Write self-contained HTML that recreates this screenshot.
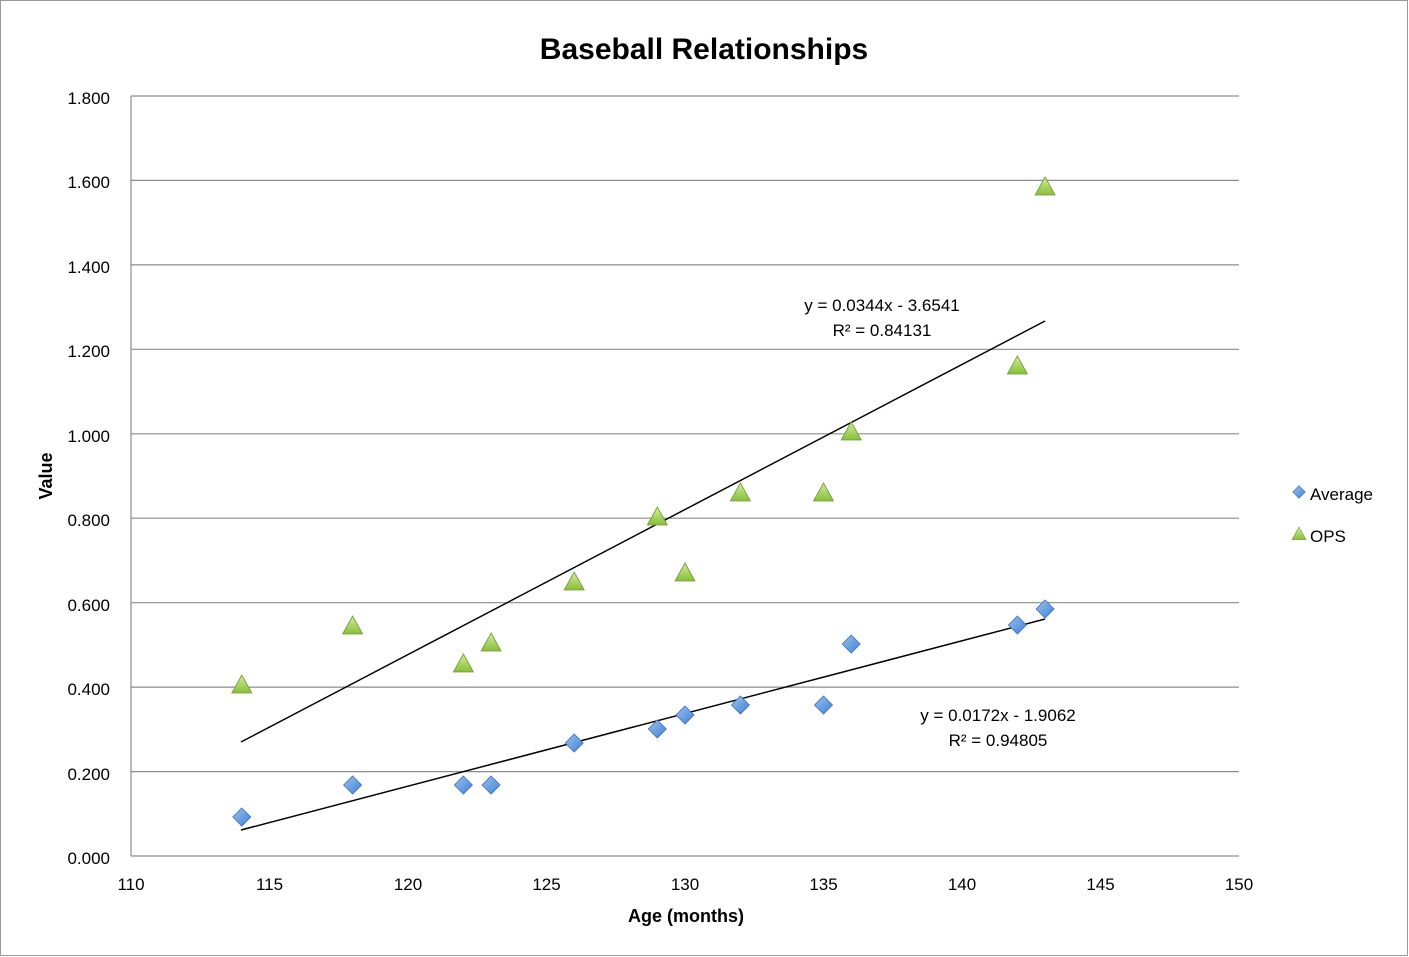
<!DOCTYPE html>
<html><head><meta charset="utf-8"><style>
html,body{margin:0;padding:0;background:#fff;}
svg{display:block;font-family:"Liberation Sans",sans-serif;}
</style></head><body>
<svg width="1409" height="957" viewBox="0 0 1409 957" xmlns="http://www.w3.org/2000/svg">
<defs>
<linearGradient id="gd" x1="0" y1="0" x2="1" y2="1"><stop offset="0" stop-color="#9cc3f0"/><stop offset="1" stop-color="#3f7fd6"/></linearGradient>
<linearGradient id="gt" x1="0" y1="0" x2="0" y2="1"><stop offset="0" stop-color="#d4ec9a"/><stop offset="1" stop-color="#86bf3a"/></linearGradient>
<g id="d"><polygon points="0,-9 9,0 0,9 -9,0" fill="url(#gd)" stroke="#3b6fb8" stroke-width="0.8"/></g>
<g id="t"><polygon points="0,-10 10,8 -10,8" fill="url(#gt)" stroke="#6f9a2e" stroke-width="0.8"/></g>
</defs>
<rect x="0.5" y="0.5" width="1407" height="955" fill="#fff" stroke="#9a9a9a"/>
<text x="704" y="59" text-anchor="middle" font-size="30" font-weight="bold">Baseball Relationships</text>
<g stroke="#8c8c8c" stroke-width="1.2">
<line x1="131" y1="96" x2="1239" y2="96"/>
<line x1="131" y1="180.4" x2="1239" y2="180.4"/>
<line x1="131" y1="264.9" x2="1239" y2="264.9"/>
<line x1="131" y1="349.3" x2="1239" y2="349.3"/>
<line x1="131" y1="433.8" x2="1239" y2="433.8"/>
<line x1="131" y1="518.2" x2="1239" y2="518.2"/>
<line x1="131" y1="602.7" x2="1239" y2="602.7"/>
<line x1="131" y1="687.1" x2="1239" y2="687.1"/>
<line x1="131" y1="771.6" x2="1239" y2="771.6"/>
<line x1="131" y1="856" x2="1239" y2="856"/>
<line x1="131" y1="96" x2="131" y2="856"/>
</g>
<g font-size="17" text-anchor="end">
<text x="110" y="104">1.800</text><text x="110" y="188">1.600</text><text x="110" y="273">1.400</text>
<text x="110" y="357">1.200</text><text x="110" y="442">1.000</text><text x="110" y="526">0.800</text>
<text x="110" y="611">0.600</text><text x="110" y="695">0.400</text><text x="110" y="780">0.200</text>
<text x="110" y="864">0.000</text>
</g>
<g font-size="17" text-anchor="middle">
<text x="131" y="890">110</text><text x="269.5" y="890">115</text><text x="408" y="890">120</text>
<text x="546.5" y="890">125</text><text x="685" y="890">130</text><text x="823.5" y="890">135</text>
<text x="962" y="890">140</text><text x="1100.5" y="890">145</text><text x="1239" y="890">150</text>
</g>
<text x="686" y="922" text-anchor="middle" font-size="18" font-weight="bold">Age (months)</text>
<text transform="translate(52,476) rotate(-90)" text-anchor="middle" font-size="18" font-weight="bold">Value</text>
<line x1="241" y1="742" x2="1045" y2="321" stroke="#000" stroke-width="1.5"/>
<line x1="241" y1="830" x2="1045" y2="619" stroke="#000" stroke-width="1.5"/>
<use href="#t" x="241.8" y="685"/><use href="#t" x="352.6" y="626"/><use href="#t" x="463.4" y="664"/>
<use href="#t" x="491.1" y="643"/><use href="#t" x="574.2" y="582"/><use href="#t" x="657.3" y="517"/>
<use href="#t" x="685" y="573"/><use href="#t" x="740.4" y="493"/><use href="#t" x="823.5" y="493"/>
<use href="#t" x="851.2" y="432"/><use href="#t" x="1017.4" y="366"/><use href="#t" x="1045.1" y="187"/>
<use href="#d" x="241.8" y="817"/><use href="#d" x="352.6" y="785"/><use href="#d" x="463.4" y="785"/>
<use href="#d" x="491.1" y="785"/><use href="#d" x="574.2" y="743"/><use href="#d" x="657.3" y="729"/>
<use href="#d" x="685" y="715"/><use href="#d" x="740.4" y="705"/><use href="#d" x="823.5" y="705"/>
<use href="#d" x="851.2" y="644"/><use href="#d" x="1017.4" y="625"/><use href="#d" x="1045.1" y="609"/>
<g font-size="17" text-anchor="middle">
<text x="882" y="311">y = 0.0344x - 3.6541</text><text x="882" y="336">R² = 0.84131</text>
<text x="998" y="721">y = 0.0172x - 1.9062</text><text x="998" y="746">R² = 0.94805</text>
</g>
<g transform="translate(1299,492) scale(0.7)"><use href="#d"/></g>
<text x="1310" y="500" font-size="17">Average</text>
<g transform="translate(1299,534) scale(0.7)"><use href="#t"/></g>
<text x="1310" y="542" font-size="17">OPS</text>
</svg>
</body></html>
